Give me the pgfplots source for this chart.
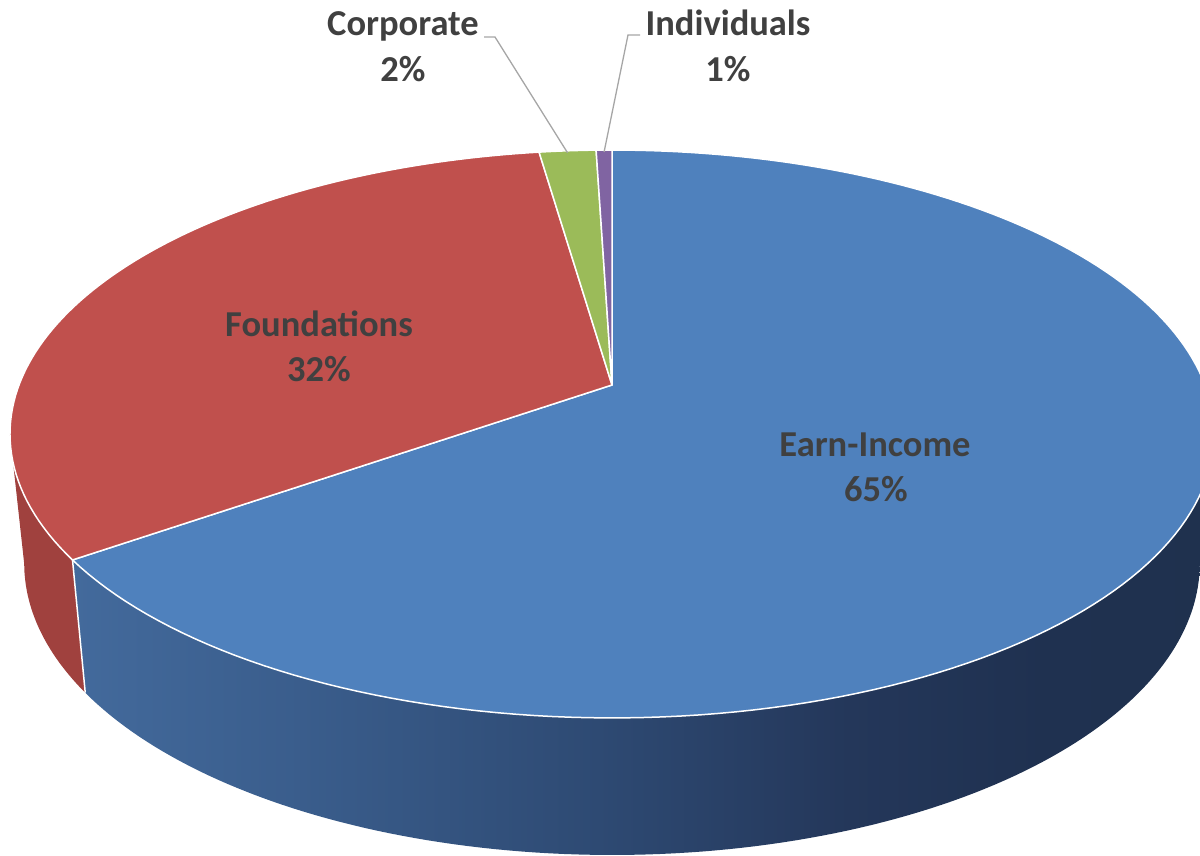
\documentclass[border=0pt]{standalone}
\usepackage{pgfplots}
\pgfplotsset{compat=1.18}
\usepackage{pgfplotstable}
\usepackage{fontspec}
\setmainfont{Carlito}

\definecolor{cEarn}{HTML}{4F81BD}
\definecolor{cFound}{HTML}{C0504D}
\definecolor{cCorp}{HTML}{9BBB59}
\definecolor{cInd}{HTML}{8064A2}
\definecolor{cFoundSide}{HTML}{A0413E}
\definecolor{labelgray}{HTML}{404040}
\definecolor{leader}{HTML}{A6A6A6}

\pgfdeclarehorizontalshading{bluesideshade}{100bp}{%
 rgb(0bp)=(0.263,0.416,0.612);
 rgb(25bp)=(0.263,0.416,0.612);
 rgb(35bp)=(0.227,0.365,0.549);
 rgb(48bp)=(0.180,0.290,0.451);
 rgb(59bp)=(0.141,0.216,0.353);
 rgb(67.5bp)=(0.122,0.192,0.314);
 rgb(75bp)=(0.122,0.192,0.306);
 rgb(100bp)=(0.122,0.192,0.306)}

\pgfplotstableread{
label value
Earn-Income 65.3
Foundations 32.4
Corporate 1.8
Individuals 0.5
}\piedata

\pgfplotstablegetelem{0}{value}\of\piedata\pgfmathsetmacro\vA{\pgfplotsretval}
\pgfplotstablegetelem{1}{value}\of\piedata\pgfmathsetmacro\vB{\pgfplotsretval}
\pgfplotstablegetelem{2}{value}\of\piedata\pgfmathsetmacro\vC{\pgfplotsretval}
\pgfplotstablegetelem{3}{value}\of\piedata\pgfmathsetmacro\vD{\pgfplotsretval}
\pgfmathsetmacro\eA{90-3.6*\vA}
\pgfmathsetmacro\eB{\eA-3.6*\vB}
\pgfmathsetmacro\eC{\eB-3.6*\vC}
\pgfmathsetmacro\eD{\eC-3.6*\vD}
\pgfmathsetmacro\mC{(\eB+\eC)/2}
\pgfmathsetmacro\mD{(\eC+\eD)/2}

\begin{document}%
\begin{tikzpicture}[
  declare function={
    topx(\t)=612+593*cos(\t)/(1+0.1725*sin(\t));
    topy(\t)=471+275.5*sin(\t)/(1+0.1725*sin(\t));
    botx(\t)=612+579*cos(\t)/(1+0.1725*sin(\t));
    boty(\t)=343+283*sin(\t)/(1+0.1725*sin(\t));
  },
  lbl/.style={font=\fontsize{36.5}{44}\selectfont\bfseries, text=labelgray, anchor=base, inner sep=0pt}
]
\begin{axis}[
  at={(0pt,0pt)}, anchor=origin,
  hide axis, x=1pt, y=1pt,
  xmin=0, xmax=1200, ymin=0, ymax=856,
  clip=true
]
% side walls
\fill[cFoundSide] plot[domain=-170:\eA, samples=30, variable=\t] ({topx(\t)},{topy(\t)})
   -- plot[domain=\eA:-170, samples=30, variable=\t] ({botx(\t)},{boty(\t)}) -- cycle;
\shade[shading=bluesideshade] plot[domain=\eA:-10, samples=120, variable=\t] ({topx(\t)},{topy(\t)})
   -- plot[domain=-10:\eA, samples=120, variable=\t] ({botx(\t)},{boty(\t)}) -- cycle;
\draw[white, line width=1.5pt] ({topx(\eA)},{topy(\eA)}) -- ({botx(\eA)},{boty(\eA)});
% top faces
\filldraw[fill=cEarn, draw=white, line width=1.5pt, line join=round] (612,471) -- plot[domain=\eA:90, samples=160, variable=\t] ({topx(\t)},{topy(\t)}) -- cycle;
\filldraw[fill=cFound, draw=white, line width=1.5pt, line join=round] (612,471) -- plot[domain=\eB:\eA, samples=90, variable=\t] ({topx(\t)},{topy(\t)}) -- cycle;
\filldraw[fill=cCorp, draw=white, line width=1.5pt, line join=round] (612,471) -- plot[domain=\eC:\eB, samples=8, variable=\t] ({topx(\t)},{topy(\t)}) -- cycle;
\filldraw[fill=cInd, draw=white, line width=1.5pt, line join=round] (612,471) -- plot[domain=\eD:\eC, samples=5, variable=\t] ({topx(\t)},{topy(\t)}) -- cycle;
% leader lines
\draw[leader, line width=1.3pt] ({topx(\mC)},{topy(\mC)-2}) -- (495,819) -- (484,819);
\draw[leader, line width=1.3pt] ({topx(\mD)},{topy(\mD)-2}) -- (628,821) -- (640,821);
% labels
\node[lbl] at (875,399) {Earn-Income};
\node[lbl] at (876,354) {65\%};
\node[lbl] at (319,519) {Foundations};
\node[lbl] at (319,474) {32\%};
\node[lbl] at (403,820) {Corporate};
\node[lbl] at (403,774) {2\%};
\node[lbl] at (728,820) {Individuals};
\node[lbl] at (728,774) {1\%};
\end{axis}
\pgfresetboundingbox
\path[use as bounding box] (0pt,0pt) rectangle (1200pt,856pt);
\end{tikzpicture}%
\end{document}
